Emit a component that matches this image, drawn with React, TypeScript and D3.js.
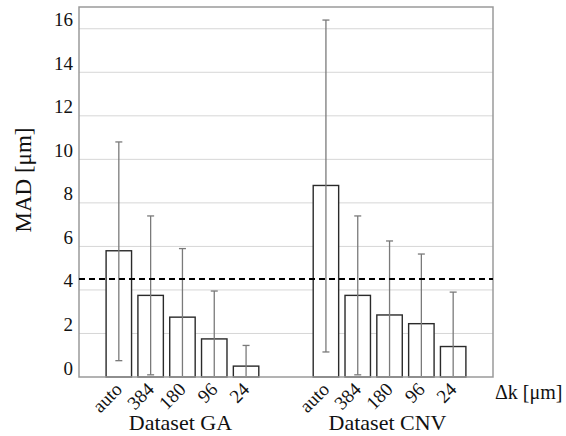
import React, { useEffect, useRef } from 'react';
import * as d3 from 'd3';

// values
const datasets = ['Dataset GA', 'Dataset CNV'];
const spacings = ['auto', '384', '180', '96', '24'];
const madGA = [5.8, 3.75, 2.75, 1.75, 0.5];
const errLowGA = [0.75, 0.1, 0, 0, 0];
const errHighGA = [10.8, 7.4, 5.9, 3.95, 1.45];
const madCNV = [8.8, 3.75, 2.85, 2.45, 1.4];
const errLowCNV = [1.15, 0.1, 0, 0, 0];
const errHighCNV = [16.4, 7.4, 6.25, 5.65, 3.9];
const yTicks = [0, 2, 4, 6, 8, 10, 12, 14, 16];
const refLine = 4.5;

const W = 566;
const H = 436;
const FONT = "Liberation Serif, DejaVu Serif, serif";

const App = () => {
    const svgRef = useRef<SVGSVGElement>(null);

    useEffect(() => {
        const svg = d3.select(svgRef.current);
        svg.selectAll('*').remove();

        const margin = { top: 7, right: 73, bottom: 59, left: 79 };
        const left = margin.left, right = W - margin.right;
        const top = margin.top, bottom = H - margin.bottom;

        const y = d3.scaleLinear().domain([0, 17]).range([bottom, top]);
        const xGroup = d3.scaleBand()
            .domain(datasets)
            .range([left, right])
            .paddingInner(0.232)
            .paddingOuter(0.1155);
        const xBar = d3.scaleBand()
            .domain(spacings)
            .range([0, xGroup.bandwidth()])
            .paddingInner(0.2)
            .paddingOuter(0.1);

        const rows = [
            { set: datasets[0], mad: madGA, lo: errLowGA, hi: errHighGA },
            { set: datasets[1], mad: madCNV, lo: errLowCNV, hi: errHighCNV },
        ].flatMap(g => spacings.map((s, i) => ({
            set: g.set, k: s, v: g.mad[i], lo: g.lo[i], hi: g.hi[i]
        })));

        const label = (sel, size) => sel
            .attr('font-family', FONT)
            .attr('font-size', size)
            .attr('fill', '#111');

        // gridlines
        svg.append('g').selectAll('line')
            .data(yTicks.filter(t => t > 0))
            .join('line')
            .attr('x1', left).attr('x2', right)
            .attr('y1', d => y(d)).attr('y2', d => y(d))
            .attr('stroke', '#d6d6d6').attr('stroke-width', 1);

        // y tick labels
        svg.append('g').selectAll('text')
            .data(yTicks)
            .join('text')
            .attr('x', left - 6)
            .attr('y', d => y(d) - 2.5)
            .attr('text-anchor', 'end')
            .call(label, 19)
            .text(d => d);

        const bx = d => xGroup(d.set)! + xBar(d.k)!;
        const cx = d => bx(d) + xBar.bandwidth() / 2;

        // bars
        svg.append('g').selectAll('rect')
            .data(rows)
            .join('rect')
            .attr('x', d => bx(d))
            .attr('y', d => y(d.v))
            .attr('width', xBar.bandwidth())
            .attr('height', d => y(0) - y(d.v))
            .attr('fill', '#fff')
            .attr('stroke', '#2a2a2a')
            .attr('stroke-width', 1.4);

        // error bars
        const err = svg.append('g').attr('stroke', '#7a7a7a').attr('stroke-width', 1.3);
        err.selectAll('line.stem')
            .data(rows)
            .join('line')
            .attr('class', 'stem')
            .attr('x1', d => cx(d)).attr('x2', d => cx(d))
            .attr('y1', d => y(d.lo)).attr('y2', d => y(d.hi));
        err.selectAll('line.capHi')
            .data(rows)
            .join('line')
            .attr('class', 'capHi')
            .attr('x1', d => cx(d) - 3.5).attr('x2', d => cx(d) + 3.5)
            .attr('y1', d => y(d.hi)).attr('y2', d => y(d.hi));
        err.selectAll('line.capLo')
            .data(rows.filter(d => d.lo > 0))
            .join('line')
            .attr('class', 'capLo')
            .attr('x1', d => cx(d) - 3.5).attr('x2', d => cx(d) + 3.5)
            .attr('y1', d => y(d.lo)).attr('y2', d => y(d.lo));

        // frame: left, top, right, bottom axis
        svg.append('path')
            .attr('d', `M${left},${bottom}V${top}H${right}V${bottom}Z`)
            .attr('fill', 'none')
            .attr('stroke', '#9a9a9a')
            .attr('stroke-width', 1.5);

        // reference line
        svg.append('line')
            .attr('x1', left).attr('x2', right)
            .attr('y1', y(refLine)).attr('y2', y(refLine))
            .attr('stroke', '#000')
            .attr('stroke-width', 2)
            .attr('stroke-dasharray', '6,4');

        // x tick labels (rotated)
        svg.append('g').selectAll('text')
            .data(rows)
            .join('text')
            .attr('transform', d => `translate(${cx(d) + 4.5},${bottom + 13.5}) rotate(-45)`)
            .attr('text-anchor', 'end')
            .call(label, 19)
            .text(d => d.k);

        // group labels
        svg.append('g').selectAll('text')
            .data(datasets)
            .join('text')
            .attr('x', d => xGroup(d)! + xGroup.bandwidth() / 2 - 2)
            .attr('y', 430)
            .attr('text-anchor', 'middle')
            .call(label, 22)
            .text(d => d);

        svg.append('text')
            .attr('x', 495)
            .attr('y', 398.5)
            .call(label, 20)
            .text('Δk [μm]');

        svg.append('text')
            .attr('transform', `translate(31,180) rotate(-90)`)
            .attr('text-anchor', 'middle')
            .call(label, 23)
            .text('MAD [μm]');
    }, []);

    return (
        <svg ref={svgRef} width={W} height={H}
            style={{ position: 'absolute', left: 0, top: 0, background: '#fff' }} />
    );
};

export default App;
